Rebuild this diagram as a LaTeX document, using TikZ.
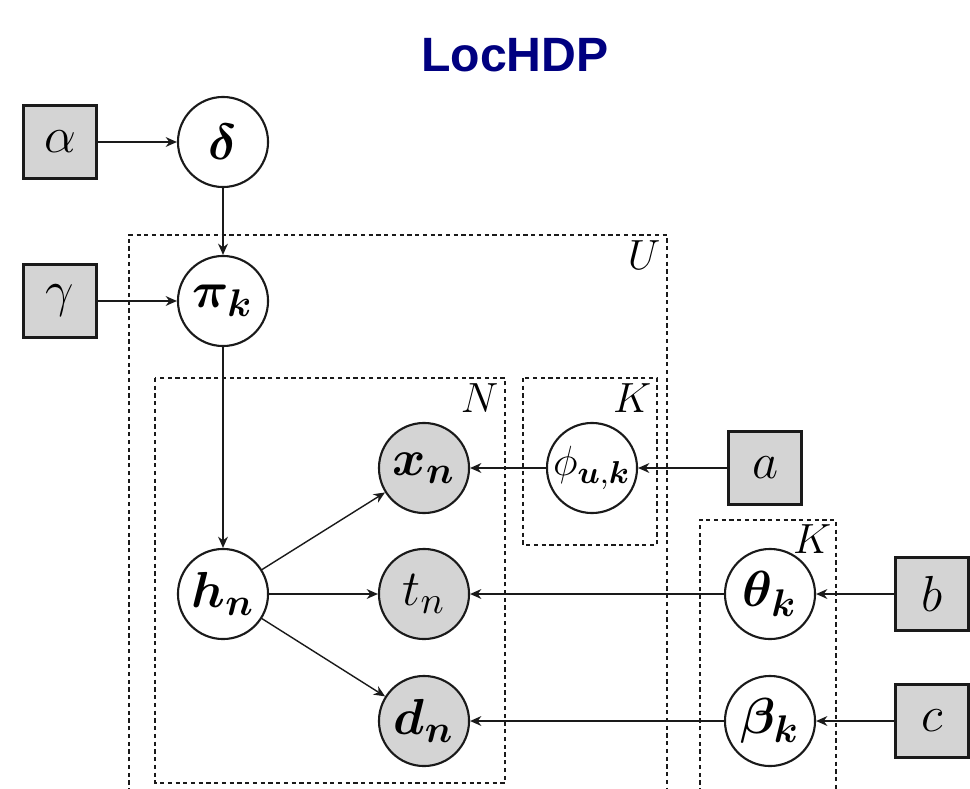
\documentclass[tikz,border=0pt]{standalone}
\usepackage{amsmath,amssymb,bm}
\usepackage{fontspec}
\newfontfamily\titlefont{Liberation Sans}
\usetikzlibrary{arrows.meta,positioning,calc}
\definecolor{ink}{HTML}{1A1A1A}
\definecolor{navy}{HTML}{000080}
\definecolor{obs}{HTML}{D4D4D4}
\newcommand{\mfont}{\fontsize{15.5}{18}\selectfont}
\newcommand{\pfont}{\fontsize{13}{16}\selectfont}
\tikzset{hyper/.style={rectangle,draw=ink,fill=obs,line width=0.65pt,minimum size=0.73cm,inner sep=0pt,font=\mfont},
  latent/.style={circle,draw=ink,fill=white,line width=0.6pt,minimum size=0.9cm,inner sep=0pt,font=\mfont},
  observed/.style={latent,fill=obs},
  plate/.style={draw=ink,dashed,dash pattern=on 1.2pt off 1pt,line width=0.45pt},
  platelab/.style={anchor=north east,inner sep=0pt,font=\pfont},
  edge/.style={-{Stealth[length=3.2pt,width=2.8pt]},draw=ink,line width=0.4pt}}
\begin{document}
\begin{tikzpicture}[x=0.01cm,y=-0.01cm]
\useasboundingbox (0,0) rectangle (970,788);
\clip (0,0) rectangle (970,788);
% title
\node[text=navy,font=\titlefont\fontsize{13.7}{16}\selectfont\bfseries] (title) at (515,55) {LocHDP};
% plates
\draw[plate] (129,800) -- (129,235) -- (667,235) -- (667,800);
\draw[plate] (155,378) rectangle (505,783);
\draw[plate] (523,378) rectangle (657,545);
\draw[plate] (700,800) -- (700,520) -- (836,520) -- (836,800);
\node[platelab] (labU) at (661,240) {$U$};
\node[platelab] (labN) at (499,383) {$N$};
\node[platelab] (labK1) at (652,383) {$K$};
\node[platelab] (labK2) at (832,524) {$K$};
% hyperparameters
\node[hyper] (alpha) at (60,142) {$\alpha$};
\node[hyper] (gamma) at (60,301) {$\gamma$};
\node[hyper] (a) at (765,468) {$a$};
\node[hyper] (b) at (932,594) {$b$};
\node[hyper] (c) at (932,721) {$c$};
% variables
\node[latent] (delta) at (223,142) {$\bm{\delta}$};
\node[latent] (pi) at (223,301) {$\bm{\pi_k}$};
\node[latent] (h) at (223,594) {$\bm{h_n}$};
\node[observed] (x) at (424,468) {$\bm{x_n}$};
\node[observed] (t) at (424,594) {$t_n$};
\node[observed] (d) at (424,721) {$\bm{d_n}$};
\node[latent,font=\pfont] (phi) at (592,468) {$\phi_{\bm{u},\bm{k}}$};
\node[latent] (theta) at (770,594) {$\bm{\theta_k}$};
\node[latent] (beta) at (770,721) {$\bm{\beta_k}$};
% edges
\draw[edge] (alpha) -- (delta);
\draw[edge] (delta) -- (pi);
\draw[edge] (gamma) -- (pi);
\draw[edge] (pi) -- (h);
\draw[edge] (h) -- (x);
\draw[edge] (h) -- (t);
\draw[edge] (h) -- (d);
\draw[edge] (a) -- (phi);
\draw[edge] (phi) -- (x);
\draw[edge] (b) -- (theta);
\draw[edge] (theta) -- (t);
\draw[edge] (c) -- (beta);
\draw[edge] (beta) -- (d);
\end{tikzpicture}
\end{document}
